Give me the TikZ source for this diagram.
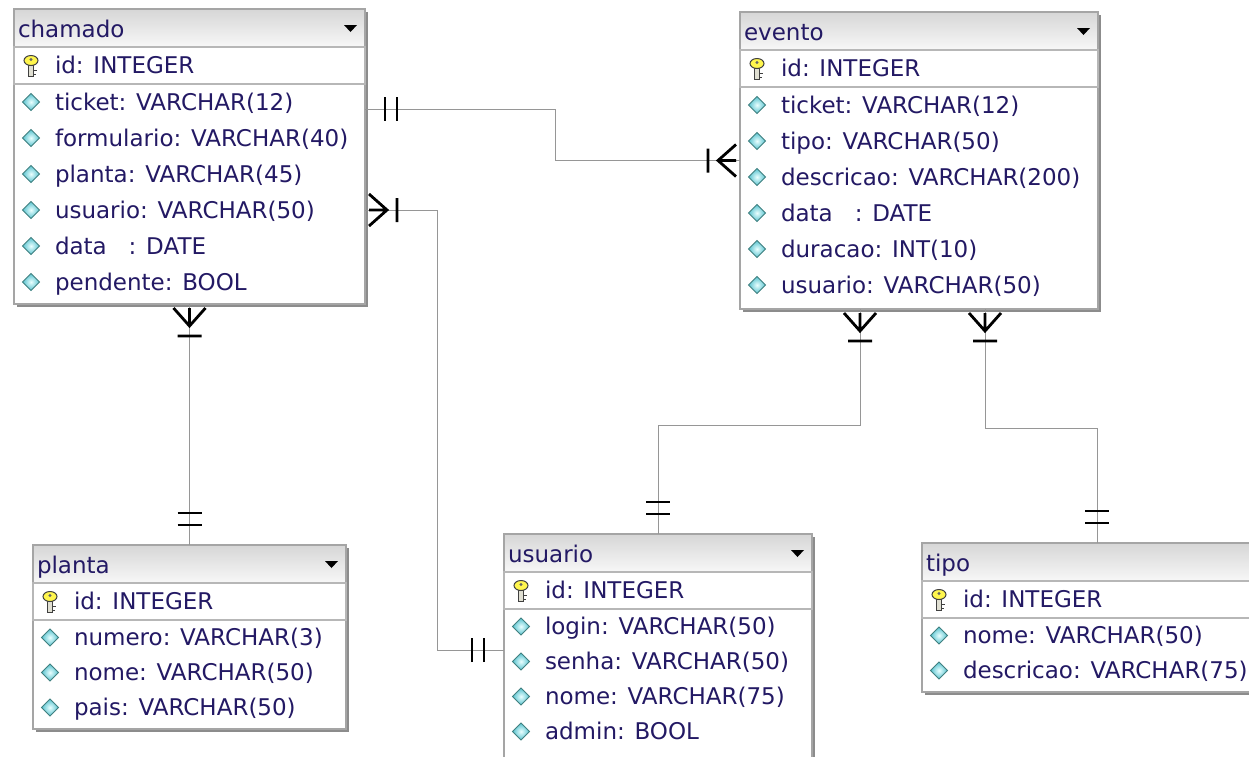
\documentclass[tikz,border=0pt]{standalone}
\usepackage{fontspec}
\setmainfont{DejaVu Sans}
\usetikzlibrary{calc,shadows}
\definecolor{txt}{RGB}{35,25,100}
\definecolor{rim}{RGB}{165,165,165}
\definecolor{wirec}{RGB}{150,150,150}
\definecolor{gem}{RGB}{100,205,220}
\newcommand\fieldfont{\fontsize{23}{27}\selectfont}

\begin{document}
\begin{tikzpicture}[x=1pt, y=-1pt,
  every node/.style = {inner sep=0pt, outer sep=0pt},
  tbl/.style = {draw=rim, fill=white, anchor=north west, line width=1.6pt,
    drop shadow={shadow xshift=3pt, shadow yshift=-3pt, fill=black!45, opacity=1}},
  hdr/.style = {draw=rim, line width=1.2pt, anchor=north west, minimum height=38,
    top color=black!16, bottom color=black!3},
  keyrow/.style = {draw=rim!80, line width=1.2pt, anchor=north west, minimum height=37},
  tbltitle/.style = {anchor=west, font=\fieldfont, text=txt, text height=20, text depth=4},
  field/.style = {anchor=west, font=\fieldfont, text=txt, text height=20, text depth=4},
  wire/.style = {draw=wirec, line width=1pt},
  pics/pk/.style = {code={
    \filldraw[fill=yellow!30!black!20, draw=black!75, line width=1pt] (-2.5,-1) rectangle (2.5,11);
    \draw[black!75, line width=1.5pt] (2.5,5) -- (6,5) (2.5,9) -- (5,9);
    \filldraw[fill=yellow!70!white, draw=black!75, line width=1pt] (0,-5) ellipse [x radius=7, y radius=5];
    \fill[black!60] (0,-6) circle [radius=1.6];}},
  pics/fk/.style = {code={
    \draw[draw=teal!50!gray, line width=1pt, inner color=cyan!8!white, outer color=gem!85!teal]
      (-8.5,0) -- (0,-8.5) -- (8.5,0) -- (0,8.5) -- cycle;}},
  pics/many/.style = {code={
    \draw[line width=2.8pt] (4,-16) -- (22,0) -- (4,16) (4,0) -- (22,0) (32,-12) -- (32,12);}},
  pics/one/.style = {code={
    \draw[line width=2.8pt] (20,-12) -- (20,12) (32,-12) -- (32,12);}}]

\useasboundingbox (0,0) rectangle (1249,756);

% tables: name / left / top / width / height / row height / fields
\foreach \tn/\tx/\ty/\tw/\th/\rh/\flist in {
  chamado/14/9/351/295/36/{ticket: VARCHAR(12), formulario: VARCHAR(40), planta: VARCHAR(45), usuario: VARCHAR(50), data\ \ \ : DATE, pendente: BOOL},
  evento/740/12/358/297/36/{ticket: VARCHAR(12), tipo: VARCHAR(50), descricao: VARCHAR(200), data\ \ \ : DATE, duracao: INT(10), usuario: VARCHAR(50)},
  planta/33/545/313/184/35/{numero: VARCHAR(3), nome: VARCHAR(50), pais: VARCHAR(50)},
  usuario/504/534/308/232/35/{login: VARCHAR(50), senha: VARCHAR(50), nome: VARCHAR(75), admin: BOOL},
  tipo/922/543/350/149/35/{nome: VARCHAR(50), descricao: VARCHAR(75)}}
{
  \node[tbl, minimum width=\tw, minimum height=\th] (\tn) at (\tx,\ty) {};
  \node[hdr, minimum width=\tw] (\tn-h) at (\tn.north west) {};
  \node[tbltitle] (\tn-t) at ($(\tn-h.west)+(4,1)$) {\tn};
  \fill ($(\tn-h.east)+(-21,-3)$) -- ++(13,0) -- ++(-6.5,7) -- cycle;
  \node[keyrow, minimum width=\tw] (\tn-k) at (\tn-h.south west) {};
  \pic at ($(\tn-k.west)+(17,0)$) {pk};
  \node[field] (\tn-id) at ($(\tn-k.west)+(41,0)$) {id: INTEGER};
  \foreach \f [count=\i] in \flist {
    \pic at ($(\tn-k.south west)+(17,\rh*\i-\rh/2)$) {fk};
    \node[field] (\tn-\i) at ($(\tn-k.south west)+(41,\rh*\i-\rh/2)$) {\f};
  }
}

% relations
\coordinate (a1) at ($(chamado-1 -| chamado.east)+(0,7)$);
\draw[wire] (a1) -- ++(190,0) |- (evento.west);
\pic at (a1) {one};
\pic[rotate=180] at (evento.west) {many};

\coordinate (a2) at (chamado-4 -| chamado.east);
\draw[wire] (a2) -- ++(72,0) |- (usuario.west);
\pic at (a2) {many};
\pic[rotate=180] at (usuario.west) {one};

\draw[wire] (chamado.south) -- (planta.north);
\pic[rotate=-90] at (chamado.south) {many};
\pic[rotate=90] at (planta.north) {one};

\coordinate (a4) at ($(evento.south)+(-59,0)$);
\draw[wire] (a4) -- ++(0,116) -| (usuario.north);
\pic[rotate=-90] at (a4) {many};
\pic[rotate=90] at (usuario.north) {one};

\coordinate (a5) at ($(evento.south)+(66,0)$);
\draw[wire] (a5) -- ++(0,119) -| (tipo.north);
\pic[rotate=-90] at (a5) {many};
\pic[rotate=90] at (tipo.north) {one};
\end{tikzpicture}
\end{document}
